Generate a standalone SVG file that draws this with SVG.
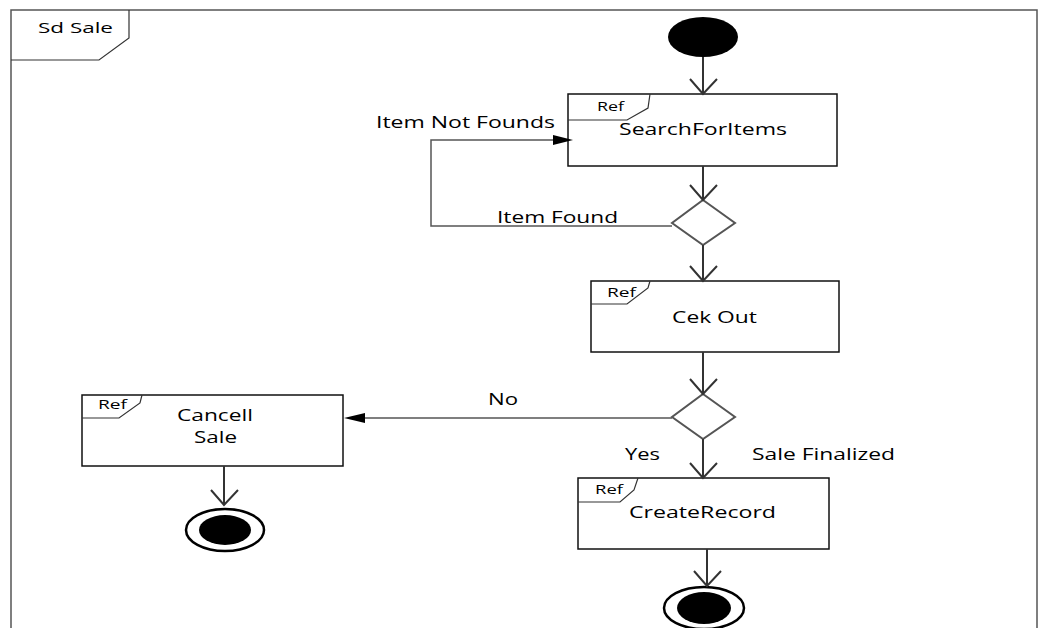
<svg xmlns="http://www.w3.org/2000/svg" width="1043" height="628" viewBox="0 0 1043 628">
<style>
text{font-family:"Open Sans","DejaVu Sans",sans-serif;fill:#000}
.lbl{font-size:17px}
.lbl2{font-size:16px}
.ttl{font-size:15px}
.ref{font-size:12px}
.box{fill:#fff;stroke:#111;stroke-width:1.5}
.tab{fill:none;stroke:#333;stroke-width:1.2}
.dia{fill:#fff;stroke:#555;stroke-width:2}
.edge{fill:none;stroke:#333;stroke-width:2}
.thin{fill:none;stroke:#555;stroke-width:1.5}
.vhead{fill:none;stroke:#333;stroke-width:2}
.fhead{fill:#000;stroke:none}
.ring{fill:#fff;stroke:#000;stroke-width:2.5}
</style>
<rect width="1043" height="628" fill="#fff"/>
<g id="frame">
<path d="M11,640 V10 H1037 V640" fill="none" stroke="#555" stroke-width="1.5"/>
<path d="M11,60 H99 L129,38 V10" fill="none" stroke="#333" stroke-width="1.2"/>
<text x="38" y="33" class="ttl" textLength="75" lengthAdjust="spacingAndGlyphs">Sd Sale</text>
</g>
<g id="start">
<ellipse cx="703" cy="37" rx="35" ry="20" fill="#000"/>
</g>
<g id="search">
<rect x="568" y="94" width="269" height="72" class="box"/>
<path d="M568,120 H627 L648,108 L650,94" class="tab"/>
<text x="597" y="111" class="ref" textLength="27" lengthAdjust="spacingAndGlyphs">Ref</text>
<text x="619" y="135" class="lbl" textLength="168" lengthAdjust="spacingAndGlyphs">SearchForItems</text>
</g>
<g id="decision1">
<polygon points="703,200 735,223 703,245 672,223" class="dia"/>
</g>
<g id="cekout">
<rect x="591" y="281" width="248" height="71" class="box"/>
<path d="M591,304 H627 L648,288 L650,281" class="tab"/>
<text x="607" y="297" class="ref" textLength="29" lengthAdjust="spacingAndGlyphs">Ref</text>
<text x="672" y="323" class="lbl" textLength="85" lengthAdjust="spacingAndGlyphs">Cek Out</text>
</g>
<g id="decision2">
<polygon points="703,394 735,417 703,439 672,417" class="dia"/>
</g>
<g id="cancel">
<rect x="82" y="395" width="261" height="71" class="box"/>
<path d="M82,418 H119 L140,403 L142,395" class="tab"/>
<text x="98" y="409" class="ref" textLength="29" lengthAdjust="spacingAndGlyphs">Ref</text>
<text x="177" y="421" class="lbl2" textLength="76" lengthAdjust="spacingAndGlyphs">Cancell</text>
<text x="194" y="443" class="lbl2" textLength="43" lengthAdjust="spacingAndGlyphs">Sale</text>
</g>
<g id="end1">
<ellipse cx="225" cy="530" rx="39" ry="21" class="ring"/>
<ellipse cx="225" cy="530" rx="26" ry="15" fill="#000"/>
</g>
<g id="create">
<rect x="578" y="478" width="251" height="71" class="box"/>
<path d="M578,502 H620 L634,490 L638,478" class="tab"/>
<text x="595" y="494" class="ref" textLength="28" lengthAdjust="spacingAndGlyphs">Ref</text>
<text x="629" y="518" class="lbl" textLength="147" lengthAdjust="spacingAndGlyphs">CreateRecord</text>
</g>
<g id="end2">
<ellipse cx="704" cy="608" rx="40" ry="21" class="ring"/>
<ellipse cx="704" cy="608" rx="27" ry="16" fill="#000"/>
</g>
<g id="connectors">
<path d="M703,57 V93" class="edge"/>
<path d="M690,79 L703,94 L717,79" class="vhead"/>
<path d="M703,166 V199" class="edge"/>
<path d="M690,185 L703,200 L717,185" class="vhead"/>
<path d="M672,226 H431 V140 H556" class="thin"/>
<polygon points="553,135 573,140 553,145" class="fhead"/>
<path d="M703,245 V280" class="edge"/>
<path d="M690,266 L703,281 L717,266" class="vhead"/>
<path d="M703,352 V393" class="edge"/>
<path d="M690,379 L703,394 L717,379" class="vhead"/>
<path d="M672,418 H362" class="thin"/>
<polygon points="365,413 344,418 365,423" class="fhead"/>
<path d="M703,439 V477" class="edge"/>
<path d="M690,463 L703,478 L717,463" class="vhead"/>
<path d="M224,466 V504" class="edge"/>
<path d="M211,490 L224,505 L238,490" class="vhead"/>
<path d="M707,549 V585" class="edge"/>
<path d="M694,571 L707,586 L721,571" class="vhead"/>
<text x="376" y="128" class="lbl" textLength="179" lengthAdjust="spacingAndGlyphs">Item Not Founds</text>
<text x="497" y="223" class="lbl" textLength="121" lengthAdjust="spacingAndGlyphs">Item Found</text>
<text x="488" y="405" class="lbl" textLength="30" lengthAdjust="spacingAndGlyphs">No</text>
<text x="625" y="460" class="lbl" textLength="35" lengthAdjust="spacingAndGlyphs">Yes</text>
<text x="752" y="460" class="lbl" textLength="143" lengthAdjust="spacingAndGlyphs">Sale Finalized</text>
</g>
</svg>
